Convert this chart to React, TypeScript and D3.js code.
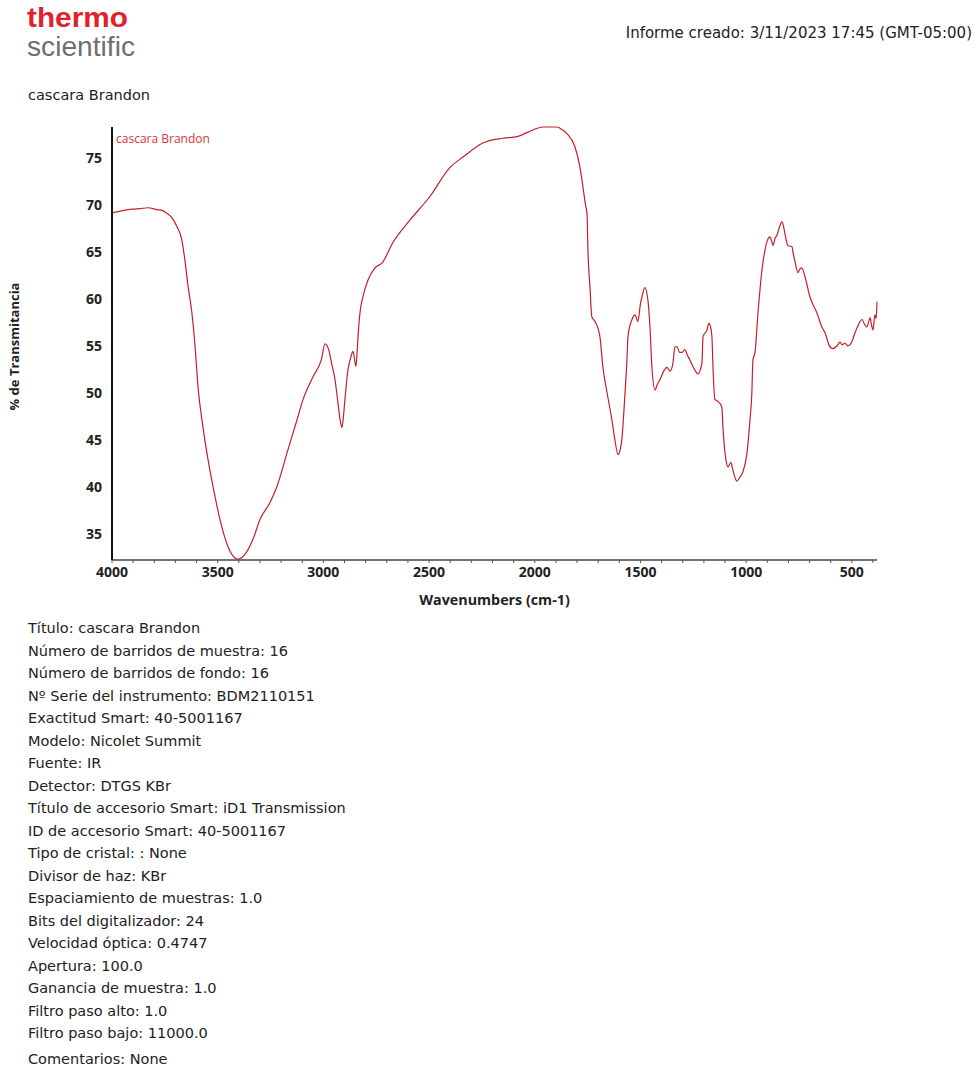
import React from "react";
import * as d3 from "d3";

// FTIR transmission spectrum of the "cascara Brandon" sample (wavenumber in cm-1, %T)
const wavenumbers = [
  4000, 3950, 3900, 3868, 3830, 3787, 3760, 3740, 3715, 3693, 3670, 3655, 3640, 3622, 3607,
  3593, 3570, 3546, 3522, 3489, 3451, 3418, 3405, 3371, 3333, 3300, 3253, 3220, 3172, 3125,
  3096, 3049, 3010, 2992, 2975, 2960, 2945, 2931, 2920, 2912, 2905, 2898, 2884, 2870, 2860,
  2852, 2846, 2840, 2836, 2827, 2813, 2789, 2756, 2723, 2671, 2590, 2496, 2401, 2340, 2245,
  2150, 2080, 2037, 1961, 1930, 1895, 1870, 1848, 1810, 1786, 1772, 1760, 1753, 1748, 1739,
  1730, 1715, 1700, 1692, 1678, 1658, 1635, 1621, 1606, 1600, 1587, 1573, 1564, 1559, 1540,
  1526, 1512, 1500, 1493, 1479, 1465, 1455, 1446, 1431, 1420, 1408, 1390, 1375, 1360, 1346,
  1337, 1327, 1315, 1303, 1290, 1278, 1266, 1252, 1242, 1228, 1215, 1209, 1204, 1185, 1176,
  1168, 1162, 1157, 1148, 1134, 1115, 1110, 1096, 1086, 1072, 1063, 1050, 1044, 1030, 1015,
  996, 982, 973, 968, 958, 944, 925, 911, 900, 887, 880, 873, 864, 854, 840,
  831, 824, 817, 803, 795, 784, 777, 770, 755, 745, 737, 722, 698, 680, 665,
  642, 627, 604, 589, 570, 556, 545, 533, 520, 509, 497, 485, 470, 452, 440,
  429, 420, 414, 407, 400, 395, 391, 385, 381,
];

const transmittance = [
  69.15, 69.4, 69.55, 69.6, 69.7, 69.5, 69.4, 69.1, 68.6, 67.7, 66.3, 64.1, 61.3, 58.5, 54.9,
  50.6, 46.4, 42.9, 40.0, 36.5, 33.6, 32.4, 32.3, 32.8, 34.4, 36.5, 38.3, 40.0, 43.6, 47.1,
  49.3, 51.7, 53.5, 55.2, 54.6, 53.0, 51.4, 48.9, 47.0, 46.3, 47.5, 49.3, 52.4, 53.8, 54.4,
  53.5, 52.8, 54.5, 56.0, 58.5, 60.2, 62.0, 63.3, 63.8, 66.0, 68.4, 70.9, 74.0, 75.1, 76.6,
  77.1, 77.3, 77.7, 78.3, 78.3, 78.3, 78.0, 77.6, 76.2, 74.0, 71.9, 70.0, 69.1, 64.8, 61.3,
  58.1, 57.6, 56.8, 56.0, 52.8, 50.0, 47.1, 45.0, 43.4, 43.6, 45.3, 50.0, 53.5, 56.0, 57.8,
  58.3, 57.6, 59.5, 60.2, 61.2, 59.9, 57.0, 52.8, 50.3, 50.9, 51.4, 52.3, 52.7, 52.3, 53.2,
  54.9, 54.9, 54.3, 54.3, 54.6, 54.0, 53.5, 52.8, 52.4, 52.0, 52.6, 53.2, 56.0, 56.7, 57.4,
  57.0, 56.0, 52.8, 49.3, 49.1, 48.5, 46.4, 42.9, 42.1, 42.6, 41.8, 40.8, 40.6, 41.0, 41.6,
  43.6, 47.1, 50.0, 53.5, 54.3, 58.5, 63.1, 65.2, 66.2, 66.6, 66.2, 65.7, 66.4, 66.8, 67.8,
  68.2, 67.8, 67.0, 65.7, 65.6, 65.6, 64.8, 64.1, 62.8, 63.2, 63.3, 62.4, 60.2, 59.2, 58.5,
  57.0, 56.4, 54.9, 54.7, 55.0, 55.4, 55.1, 55.3, 55.0, 55.1, 55.6, 56.4, 57.2, 57.8, 57.3,
  57.0, 57.6, 58.0, 57.2, 56.7, 57.6, 58.3, 57.9, 59.7,
];

const xTickLabels = [4000, 3500, 3000, 2500, 2000, 1500, 1000, 500];
const yTickLabels = [35, 40, 45, 50, 55, 60, 65, 70, 75];

const seriesName = "cascara Brandon";
const reportCreated = "Informe creado: 3/11/2023 17:45 (GMT-05:00)";

const metadataLines = [
  "Título: cascara Brandon",
  "Número de barridos de muestra: 16",
  "Número de barridos de fondo: 16",
  "Nº Serie del instrumento: BDM2110151",
  "Exactitud Smart: 40-5001167",
  "Modelo: Nicolet Summit",
  "Fuente: IR",
  "Detector: DTGS KBr",
  "Título de accesorio Smart: iD1 Transmission",
  "ID de accesorio Smart: 40-5001167",
  "Tipo de cristal: : None",
  "Divisor de haz: KBr",
  "Espaciamiento de muestras: 1.0",
  "Bits del digitalizador: 24",
  "Velocidad óptica: 0.4747",
  "Apertura: 100.0",
  "Ganancia de muestra: 1.0",
  "Filtro paso alto: 1.0",
  "Filtro paso bajo: 11000.0",
];
const commentLine = "Comentarios: None";

const W = 979;
const H = 1068;
const plot = { left: 112, right: 877, top: 127, bottom: 560 };

const bodyFont = "'DejaVu Sans', Verdana, sans-serif";
const axisFont = "'Open Sans', 'Segoe UI', sans-serif";

export default function App() {
  const points = wavenumbers.map((w, i) => ({ w, t: transmittance[i] }));

  const x = d3
    .scaleLinear()
    .domain([4000, d3.min(wavenumbers) as number])
    .range([plot.left, plot.right]);

  const [tMin, tMax] = d3.extent(transmittance) as [number, number];
  const y = d3.scaleLinear().domain([tMin, tMax]).range([plot.bottom - 1, plot.top]);

  const line = d3
    .line<{ w: number; t: number }>()
    .x((d) => x(d.w))
    .y((d) => y(d.t))
    .curve(d3.curveMonotoneX);

  const minorTicks = d3.range(4000, 350, -100);

  return (
    <svg
      width={W}
      height={H}
      viewBox={`0 0 ${W} ${H}`}
      style={{ position: "absolute", left: 0, top: 0, background: "#fff" }}
    >
      <rect x={0} y={0} width={W} height={H} fill="#fff" />

      {/* brand header */}
      <text
        x={27}
        y={27}
        fontFamily="'Liberation Sans', Arial, sans-serif"
        fontWeight={700}
        fontSize={27}
        fill="#e1222b"
        textLength={101}
        lengthAdjust="spacingAndGlyphs"
      >
        thermo
      </text>
      <text
        x={27}
        y={56}
        fontFamily="'Liberation Sans', Arial, sans-serif"
        fontSize={28}
        fill="#6d6e71"
        textLength={108}
        lengthAdjust="spacingAndGlyphs"
      >
        scientific
      </text>
      <text x={972} y={38} textAnchor="end" fontFamily={bodyFont} fontSize={15} fill="#222">
        {reportCreated}
      </text>
      <text x={28} y={100} fontFamily={bodyFont} fontSize={14.5} fill="#222">
        {seriesName}
      </text>

      {/* spectrum */}
      <path d={line(points) ?? ""} fill="none" stroke="#c41f2a" strokeWidth={1.2} strokeLinejoin="round" />
      <text x={116} y={143} fontFamily={axisFont} fontSize={12} fill="#d6333b">
        {seriesName}
      </text>

      {/* x axis */}
      <line x1={plot.left} x2={plot.right} y1={plot.bottom} y2={plot.bottom} stroke="#444" strokeWidth={1.6} />
      {minorTicks.map((v) => (
        <line key={v} x1={x(v)} x2={x(v)} y1={plot.bottom} y2={plot.bottom + 3} stroke="#555" strokeWidth={1} />
      ))}
      {xTickLabels.map((v) => (
        <text
          key={v}
          x={x(v)}
          y={577}
          textAnchor="middle"
          fontFamily={axisFont}
          fontWeight={700}
          fontSize={14}
          fill="#222"
        >
          {v}
        </text>
      ))}
      <text
        x={(plot.left + plot.right) / 2}
        y={605}
        textAnchor="middle"
        fontFamily={axisFont}
        fontWeight={700}
        fontSize={14.3}
        fill="#222"
      >
        Wavenumbers (cm-1)
      </text>

      {/* y axis */}
      <line x1={plot.left} x2={plot.left} y1={plot.top} y2={plot.bottom} stroke="#111" strokeWidth={2} />
      {yTickLabels.map((v) => (
        <text
          key={v}
          x={102}
          y={y(v) + 5}
          textAnchor="end"
          fontFamily={axisFont}
          fontWeight={700}
          fontSize={14}
          fill="#222"
        >
          {v}
        </text>
      ))}
      <text
        transform={`translate(19, ${(plot.top + plot.bottom) / 2 + 3}) rotate(-90)`}
        textAnchor="middle"
        fontFamily={axisFont}
        fontWeight={700}
        fontSize={13}
        fill="#222"
      >
        % de Transmitancia
      </text>

      {/* acquisition parameters */}
      {metadataLines.map((s, i) => (
        <text key={s} x={28} y={633 + i * 22.5} fontFamily={bodyFont} fontSize={14.5} fill="#222">
          {s}
        </text>
      ))}
      <text x={28} y={1064} fontFamily={bodyFont} fontSize={14.5} fill="#222">
        {commentLine}
      </text>
    </svg>
  );
}
